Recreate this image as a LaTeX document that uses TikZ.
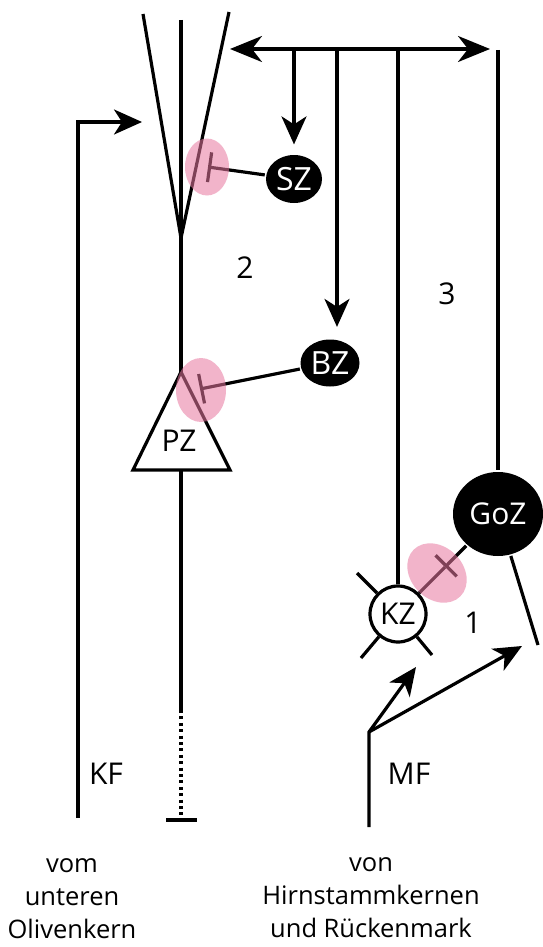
\documentclass[tikz,border=0pt]{standalone}
\usepackage{fontspec}
\setmainfont{Open Sans}
\usetikzlibrary{arrows.meta,shapes.geometric,calc}
\definecolor{spotpink}{RGB}{232,120,160}
\begin{document}
\begin{tikzpicture}[x=1pt,y=-1pt, line width=3.2pt,
  tip/.style={-{Stealth[length=28pt,width=25pt,inset=8pt]}},
  dtip/.style={{Stealth[length=32pt,width=26pt,inset=10pt]}-{Stealth[length=32pt,width=26pt,inset=10pt]}},
  inhib/.style={-{Bar[width=30pt,line width=3.2pt]}},
  blackcell/.style={ellipse, fill=black, text=white, inner sep=0pt, font=\fontsize{32}{38}\selectfont},
  lbl/.style={font=\fontsize{30}{36}\selectfont, inner sep=0pt},
  src/.style={font=\fontsize{25.5}{33}\selectfont, align=center, inner sep=0pt},
  pinkspot/.style={ellipse, fill=spotpink, fill opacity=0.55, inner sep=0pt}]
\path[use as bounding box, fill=white] (0,0) rectangle (543,947);

% cells
\node[blackcell, minimum width=56pt, minimum height=48pt] (SZ) at (294,179) {SZ};
\node[blackcell, minimum width=59pt, minimum height=47pt] (BZ) at (330,363) {BZ};
\node[blackcell, minimum width=90pt, minimum height=84pt, font=\fontsize{30}{36}\selectfont] (GoZ) at (498,514) {GoZ};
\node[circle, draw, fill=white, minimum size=56pt, inner sep=0pt, lbl] (KZ) at (398,614) {KZ};

% Purkinje cell
\coordinate (dl) at (143,14);
\coordinate (dm) at (181,20);
\coordinate (dr) at (229,12);
\coordinate (apex) at (181,238);
\coordinate (pzt) at (181,372);
\coordinate (pzl) at (133,470);
\coordinate (pzr) at (230,470);
\coordinate (pzb) at (181,470);
\coordinate (ax) at (181,710);
\coordinate (axe) at (181,818);
\coordinate (axl) at (166,820);
\coordinate (axr) at (197,820);
\draw (dl) -- (apex) -- (dr);
\draw (dm) -- (apex) -- (pzt);
\draw[line join=miter] (pzt) -- (pzl) -- (pzr) -- cycle;
\node[lbl] (PZ) at (179,441) {PZ};
\draw (pzb) -- (ax);
\draw[dash pattern=on 3pt off 3.4pt] (ax) -- (axe);
\draw (axl) -- (axr);

% climbing fibre
\coordinate (kf0) at (78,818);
\coordinate (kf1) at (78,122);
\coordinate (kft) at (142,122);
\draw[tip, line join=miter] (kf0) -- (kf1) -- (kft);

% parallel fibre
\coordinate (hl) at (230,49);
\coordinate (hr) at (490,49);
\coordinate (b1) at (294,49);
\coordinate (b2) at (337,49);
\coordinate (b3) at (398,49);
\coordinate (gz0) at (498,50);
\draw[dtip] (hl) -- (hr);
\draw[tip, shorten >=9pt] (b1) -- (SZ.north);
\draw[tip, shorten >=11pt] (b2) -- (BZ.north -| b2);
\draw (b3) -- (KZ.north);
\draw (gz0) -- (GoZ.north);

% inhibitory synapses
\coordinate (i1) at (208,167);
\coordinate (i2) at (200,389);
\coordinate (i3) at (445,567);
\draw[inhib] (SZ) -- (i1);
\draw[inhib] (BZ) -- (i2);
\draw[inhib] (GoZ) -- (i3);
\draw (i3) -- (KZ);

% Golgi cell dendrite
\coordinate (gz1) at (538,645);
\draw (GoZ) -- (gz1);

% granule cell dendrites
\coordinate (k1) at (357,573);
\coordinate (k2) at (361,658);
\coordinate (k3) at (432,655);
\draw (KZ) -- (k1);
\draw (KZ) -- (k2);
\draw (KZ) -- (k3);

% mossy fibre
\coordinate (mf0) at (369,827);
\coordinate (mf1) at (369,732);
\coordinate (mfa) at (416,667);
\coordinate (mfb) at (522,646);
\draw[tip] (mf0) -- (mf1) -- (mfa);
\draw[tip] (mf1) -- (mfb);

% labels
\node[lbl] (n2) at (245,268) {2};
\node[lbl] (n3) at (447,294) {3};
\node[lbl] (n1) at (473,623) {1};
\node[lbl] (KF) at (106,774) {KF};
\node[lbl] (MF) at (409,774) {MF};
\node[src] (srcl) at (72,899) {vom\\unteren\\Olivenkern};
\node[src] (srcr) at (371,898) {von\\Hirnstammkernen\\und Rückenmark};

% pink synapse spots
\node[pinkspot, minimum width=44pt, minimum height=57pt] (p1) at (207,167) {};
\node[pinkspot, minimum width=50pt, minimum height=64pt] (p2) at (201,390) {};
\node[pinkspot, minimum width=66pt, minimum height=52pt, rotate=-45] (p3) at (437,573) {};
\end{tikzpicture}
\end{document}
